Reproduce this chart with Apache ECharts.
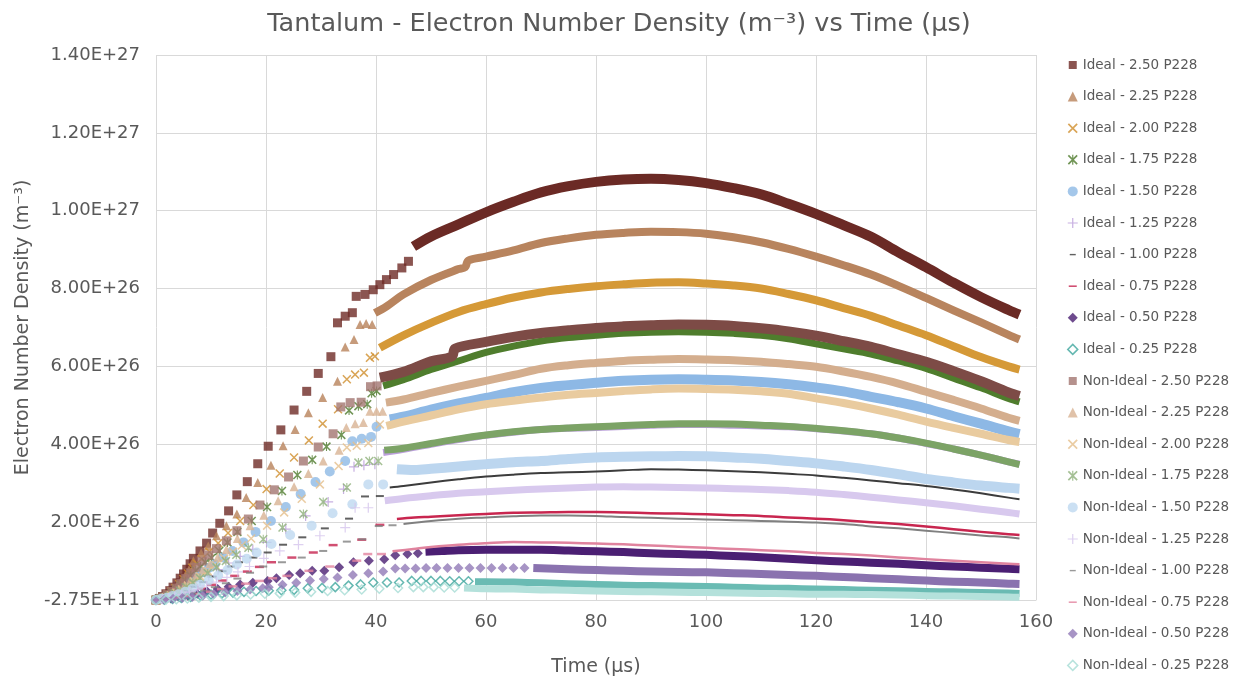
<!DOCTYPE html>
<html><head><meta charset="utf-8">
<script src="https://cdn.jsdelivr.net/npm/echarts@6/dist/echarts.min.js"></script>
<style>html,body{margin:0;padding:0;background:#fff}#c{width:1238px;height:682px}</style>
</head><body><div id="c"></div>
<script>
// Series names (legend order)
const seriesNames = [
  'Ideal - 2.50 P228','Ideal - 2.25 P228','Ideal - 2.00 P228','Ideal - 1.75 P228','Ideal - 1.50 P228',
  'Ideal - 1.25 P228','Ideal - 1.00 P228','Ideal - 0.75 P228','Ideal - 0.50 P228','Ideal - 0.25 P228',
  'Non-Ideal - 2.50 P228','Non-Ideal - 2.25 P228','Non-Ideal - 2.00 P228','Non-Ideal - 1.75 P228','Non-Ideal - 1.50 P228',
  'Non-Ideal - 1.25 P228','Non-Ideal - 1.00 P228','Non-Ideal - 0.75 P228','Non-Ideal - 0.50 P228','Non-Ideal - 0.25 P228'
];
const yTickLabels = ['-2.75E+11','2.00E+26','4.00E+26','6.00E+26','8.00E+26','1.00E+27','1.20E+27','1.40E+27'];

// Values: [time (µs), electron number density (×1e26 m^-3)]
// Sparse (individually visible) points
const i250Sparse = [[0,0],[0.6,0.04],[1.2,0.09],[1.8,0.16],[2.5,0.24],[3.1,0.33],[3.8,0.44],[4.4,0.56],[5.0,0.67],[5.6,0.79],[6.2,0.93],[6.8,1.07],[8.0,1.26],[9.2,1.46],[10.3,1.72],[11.6,1.97],[13.2,2.29],[14.7,2.70],[16.6,3.04],[18.5,3.50],[20.4,3.95],[22.7,4.37],[25.1,4.88],[27.4,5.36],[29.5,5.82],[31.8,6.25],[33.0,7.12],[34.4,7.29],[35.7,7.38],[36.4,7.80],[38.0,7.85],[39.5,7.97],[40.7,8.10],[41.9,8.23],[43.2,8.36],[44.7,8.53],[45.9,8.70]];
const i225Sparse = [[0,0],[0.6,0.03],[1.2,0.08],[1.8,0.14],[2.5,0.21],[3.2,0.29],[3.9,0.39],[4.6,0.50],[5.3,0.62],[6.0,0.78],[6.8,1.01],[8.2,1.21],[9.5,1.39],[11.0,1.65],[12.8,1.91],[14.7,2.21],[16.4,2.63],[18.5,3.02],[20.9,3.46],[23.1,3.96],[25.3,4.38],[27.7,4.81],[30.3,5.20],[33.0,5.62],[34.4,6.50],[36.0,6.69],[37.1,7.08],[38.2,7.10],[39.3,7.08]];
const i200Sparse = [[0,0],[0.7,0.03],[1.4,0.08],[2.1,0.14],[2.8,0.22],[3.5,0.31],[4.2,0.41],[5.0,0.54],[5.8,0.68],[6.6,0.83],[7.4,0.94],[8.3,1.05],[9.7,1.24],[11.3,1.46],[13.1,1.72],[15.3,2.03],[17.7,2.44],[20.1,2.85],[22.5,3.25],[25.1,3.66],[27.8,4.10],[30.3,4.53],[33.1,4.90],[34.7,5.67],[36.2,5.79],[37.8,5.84],[38.9,6.22],[39.8,6.26]];
const i175Sparse = [[0,0],[0.7,0.03],[1.4,0.07],[2.1,0.12],[2.9,0.19],[3.7,0.27],[4.5,0.37],[5.4,0.49],[6.3,0.62],[7.2,0.76],[8.1,0.86],[9.0,0.97],[10.1,1.08],[11.5,1.26],[13.0,1.48],[14.8,1.75],[17.4,2.03],[20.2,2.39],[22.9,2.80],[25.7,3.21],[28.4,3.60],[31.0,3.94],[33.7,4.24],[35.1,4.87],[36.8,4.98],[38.4,5.03],[39.2,5.31],[40.1,5.37]];
const i150Sparse = [[0,0],[0.8,0.03],[1.6,0.07],[2.5,0.12],[3.4,0.18],[4.3,0.26],[5.3,0.35],[6.3,0.46],[7.4,0.59],[8.5,0.71],[9.6,0.82],[10.7,0.92],[12.2,1.09],[13.9,1.26],[15.9,1.48],[18.1,1.75],[20.9,2.03],[23.6,2.39],[26.3,2.72],[29.0,3.03],[31.6,3.30],[34.4,3.57],[35.7,4.08],[37.4,4.14],[39.1,4.19],[40.1,4.45]];
const i125Sparse = [[0,0],[1.0,0.03],[2.0,0.07],[3.0,0.11],[4.0,0.17],[5.2,0.25],[6.5,0.35],[8.0,0.48],[9.6,0.62],[11.3,0.78],[13.2,0.95],[15.3,1.12],[17.6,1.30],[20.1,1.48],[23.6,1.82],[27.2,2.16],[31.3,2.52],[34.1,2.85],[36.0,3.42],[37.8,3.46],[39.8,3.49]];
const i100Sparse = [[0,0],[1.0,0.02],[2.0,0.05],[3.1,0.10],[4.3,0.16],[5.6,0.24],[7.0,0.34],[8.6,0.46],[10.3,0.60],[12.1,0.74],[13.6,0.86],[15.1,0.97],[17.7,1.09],[20.3,1.22],[23.1,1.42],[26.6,1.61],[30.7,1.84],[35.1,2.09],[38.0,2.66],[40.7,2.67]];
const i075Sparse = [[0,0],[1.2,0.02],[2.4,0.05],[3.7,0.09],[5.1,0.14],[6.6,0.21],[8.3,0.29],[10.1,0.39],[12.1,0.50],[14.3,0.62],[16.6,0.73],[18.8,0.85],[21.0,0.97],[24.7,1.09],[28.6,1.22],[32.2,1.41],[37.4,1.55],[40.7,1.93]];
const i050Sparse = [[0,0],[1.3,0.02],[2.7,0.04],[4.2,0.07],[5.8,0.11],[7.5,0.16],[9.3,0.22],[11.2,0.28],[13.2,0.34],[15.3,0.40],[17.6,0.44],[20.3,0.49],[21.9,0.56],[24.2,0.64],[26.2,0.69],[28.4,0.75],[30.6,0.75],[33.3,0.84],[35.9,0.97],[38.7,1.01],[41.5,1.05],[43.5,1.15],[45.7,1.18],[47.6,1.20]];
const i025Sparse = [[0,0],[1.5,0.01],[3.0,0.03],[4.6,0.05],[6.3,0.08],[8.1,0.11],[10.0,0.14],[12.0,0.17],[14.0,0.19],[16.0,0.21],[18.2,0.23],[20.5,0.24],[22.8,0.25],[25.1,0.26],[27.6,0.30],[30.2,0.31],[32.6,0.33],[35.0,0.37],[37.2,0.40],[39.5,0.45],[42.0,0.45],[44.2,0.45],[46.5,0.49],[48.2,0.49],[50.0,0.49],[51.7,0.49],[53.4,0.48],[55.1,0.48],[56.8,0.48]];
const n250Sparse = [[0,0],[0.7,0.03],[1.4,0.08],[2.1,0.14],[2.9,0.22],[3.7,0.31],[4.5,0.42],[5.4,0.55],[6.3,0.69],[7.3,0.84],[8.4,1.00],[9.6,1.15],[11.0,1.32],[12.8,1.52],[14.7,1.78],[16.8,2.08],[18.9,2.44],[21.5,2.83],[24.1,3.16],[26.8,3.57],[29.5,3.93],[32.2,4.27],[33.6,4.96],[35.3,5.07],[37.3,5.08],[39.0,5.48],[40.2,5.50]];
const n225Sparse = [[0,0],[0.8,0.03],[1.6,0.07],[2.4,0.12],[3.3,0.19],[4.2,0.27],[5.2,0.37],[6.2,0.49],[7.3,0.62],[8.5,0.77],[9.8,0.93],[11.2,1.10],[12.8,1.30],[14.8,1.58],[17.1,1.91],[19.6,2.18],[22.2,2.55],[25.1,2.91],[27.7,3.25],[30.4,3.57],[33.3,3.85],[34.6,4.43],[36.2,4.53],[37.7,4.56],[38.9,4.85],[40.1,4.85],[41.2,4.85]];
const n200Sparse = [[0,0],[0.9,0.03],[1.8,0.07],[2.7,0.12],[3.7,0.19],[4.7,0.27],[5.8,0.37],[6.9,0.48],[8.1,0.60],[9.4,0.74],[10.8,0.90],[12.4,1.07],[14.0,1.24],[15.6,1.40],[17.3,1.58],[20.2,1.91],[23.3,2.25],[26.5,2.60],[29.8,2.97],[33.2,3.44],[34.7,3.92],[36.5,3.96],[38.6,4.03],[40.7,4.51]];
const n175Sparse = [[0,0],[0.8,0.03],[1.6,0.06],[2.5,0.11],[3.4,0.17],[4.4,0.24],[5.5,0.33],[6.7,0.44],[8.0,0.56],[9.4,0.69],[11.0,0.84],[12.7,1.00],[14.6,1.16],[16.8,1.34],[19.5,1.56],[23.0,1.86],[26.8,2.21],[30.4,2.52],[34.7,2.89],[36.8,3.53],[38.8,3.57],[40.4,3.57]];
const n150Sparse = [[0,0],[1.0,0.03],[2.0,0.06],[3.0,0.10],[4.1,0.15],[5.3,0.21],[6.6,0.29],[8.0,0.39],[9.6,0.50],[11.3,0.63],[13.0,0.77],[14.7,0.91],[16.5,1.06],[18.3,1.22],[21.0,1.44],[24.4,1.67],[28.3,1.91],[32.1,2.23],[35.7,2.46],[38.6,2.97],[41.3,2.97]];
const n125Sparse = [[0,0],[1.1,0.02],[2.2,0.05],[3.4,0.09],[4.7,0.14],[6.1,0.20],[7.6,0.27],[9.2,0.36],[11.0,0.46],[12.9,0.58],[14.9,0.72],[17.0,0.86],[19.6,1.07],[22.5,1.26],[25.9,1.42],[29.8,1.65],[34.4,1.86],[36.2,2.37],[38.6,2.37]];
const n100Sparse = [[0,0],[1.2,0.02],[2.5,0.04],[3.9,0.07],[5.4,0.11],[7.0,0.17],[8.8,0.24],[10.7,0.33],[12.7,0.43],[14.8,0.55],[17.1,0.70],[19.5,0.86],[22.9,0.97],[26.5,1.09],[30.4,1.26],[34.7,1.50],[37.5,1.56],[40.5,1.90],[43.0,1.92]];
const n075Sparse = [[0,0],[1.4,0.01],[2.9,0.03],[4.5,0.06],[6.2,0.10],[8.0,0.15],[9.9,0.21],[11.9,0.28],[14.0,0.35],[16.3,0.42],[18.8,0.49],[21.2,0.56],[23.8,0.62],[27.8,0.75],[31.6,0.86],[36.5,1.01],[38.5,1.18],[41.0,1.18]];
const n050Sparse = [[0,0],[1.5,0.01],[3.1,0.03],[4.8,0.05],[6.6,0.08],[8.5,0.11],[10.5,0.15],[12.6,0.19],[14.8,0.23],[17.1,0.27],[19.4,0.30],[20.5,0.33],[23.0,0.39],[25.5,0.44],[28.0,0.50],[30.5,0.54],[33.0,0.58],[35.8,0.64],[38.6,0.69],[41.3,0.73],[43.5,0.81],[45.3,0.81],[47.2,0.81],[49.1,0.82],[51.0,0.82],[53.0,0.82],[55.0,0.82],[57.0,0.82],[59.0,0.82],[61.0,0.82],[63.0,0.82],[65.0,0.82],[67.0,0.82]];
const n025Sparse = [[0,0],[1.8,0.01],[3.7,0.02],[5.7,0.04],[7.8,0.06],[10.0,0.08],[12.3,0.10],[14.7,0.12],[17.2,0.14],[19.8,0.16],[22.5,0.17],[25.3,0.19],[28.2,0.21],[31.2,0.23],[34.3,0.25],[37.4,0.27],[40.6,0.29],[44.0,0.31],[46.8,0.33],[48.6,0.33],[50.5,0.33],[52.4,0.32],[54.3,0.32]];

// Dense (continuous-looking) parts
const i250Dense = [[46.8,9.08],[50,9.34],[55,9.65],[60,9.96],[65,10.23],[70,10.47],[75,10.63],[80,10.74],[85,10.80],[90,10.82],[95,10.79],[100,10.71],[105,10.58],[110,10.42],[115,10.18],[120,9.92],[125,9.63],[130,9.33],[135,8.93],[140,8.55],[145,8.15],[150,7.78],[155,7.45],[157,7.33]];
const i225Dense = [[39.8,7.37],[42,7.55],[45,7.85],[50,8.22],[55,8.50],[56.2,8.55],[56.8,8.72],[60,8.82],[65,8.98],[70,9.17],[75,9.29],[80,9.38],[85,9.43],[90,9.46],[95,9.45],[100,9.41],[105,9.32],[110,9.19],[115,9.02],[120,8.82],[125,8.60],[130,8.36],[135,8.07],[140,7.76],[145,7.44],[150,7.13],[155,6.81],[157,6.69]];
const i200Dense = [[40.7,6.48],[45,6.80],[50,7.12],[55,7.40],[60,7.60],[65,7.77],[70,7.90],[75,7.99],[80,8.06],[85,8.11],[90,8.15],[95,8.16],[100,8.13],[105,8.08],[110,8.00],[115,7.86],[120,7.70],[125,7.50],[130,7.30],[135,7.05],[140,6.80],[145,6.52],[150,6.24],[155,6.00],[157,5.92]];
const i175Dense = [[41.3,5.50],[45,5.66],[50,5.92],[55,6.14],[60,6.36],[65,6.52],[70,6.65],[75,6.74],[80,6.80],[85,6.85],[90,6.88],[95,6.89],[100,6.88],[105,6.85],[110,6.80],[115,6.71],[120,6.58],[125,6.45],[130,6.32],[135,6.14],[140,5.95],[145,5.70],[150,5.45],[155,5.18],[157,5.09]];
const i150Dense = [[42.5,4.64],[45,4.71],[50,4.89],[55,5.05],[60,5.19],[65,5.34],[70,5.45],[75,5.52],[80,5.58],[85,5.63],[90,5.66],[95,5.67],[100,5.66],[105,5.64],[110,5.60],[115,5.54],[120,5.46],[125,5.36],[130,5.22],[135,5.08],[140,4.92],[145,4.72],[150,4.53],[155,4.33],[157,4.26]];
const i125Dense = [[41.3,3.79],[45,3.87],[50,4.00],[55,4.12],[60,4.23],[65,4.31],[70,4.38],[75,4.41],[80,4.43],[85,4.46],[90,4.49],[95,4.51],[100,4.51],[105,4.49],[110,4.47],[115,4.45],[120,4.40],[125,4.34],[130,4.27],[135,4.16],[140,4.02],[145,3.88],[150,3.72],[155,3.55],[157,3.49]];
const i100Dense = [[42.5,2.89],[45,2.93],[50,3.02],[55,3.10],[60,3.17],[65,3.22],[70,3.26],[75,3.28],[80,3.30],[85,3.33],[90,3.36],[95,3.35],[100,3.33],[105,3.31],[110,3.28],[115,3.24],[120,3.20],[125,3.14],[130,3.07],[135,3.00],[140,2.93],[145,2.84],[150,2.74],[155,2.63],[157,2.59]];
const i075Dense = [[43.8,2.08],[47,2.12],[50,2.14],[55,2.18],[60,2.21],[65,2.24],[70,2.25],[75,2.26],[80,2.26],[85,2.25],[90,2.23],[95,2.22],[100,2.20],[105,2.18],[110,2.16],[115,2.12],[120,2.09],[125,2.05],[130,2.00],[135,1.95],[140,1.89],[145,1.82],[150,1.75],[155,1.69],[157,1.67]];
const i050Dense = [[49,1.24],[52,1.26],[55,1.28],[60,1.29],[65,1.29],[70,1.29],[75,1.27],[80,1.25],[85,1.23],[90,1.20],[95,1.18],[100,1.16],[105,1.13],[110,1.10],[115,1.06],[120,1.02],[125,0.99],[130,0.96],[135,0.93],[140,0.89],[145,0.86],[150,0.83],[155,0.80],[157,0.79]];
const i025Dense = [[58,0.47],[60,0.47],[65,0.46],[70,0.44],[75,0.42],[80,0.40],[85,0.38],[90,0.37],[95,0.36],[100,0.35],[105,0.33],[110,0.31],[115,0.30],[120,0.28],[125,0.27],[130,0.25],[135,0.24],[140,0.22],[145,0.21],[150,0.19],[155,0.18],[157,0.17]];
const n250Dense = [[40.7,5.71],[45,5.86],[50,6.13],[53.8,6.26],[54.4,6.46],[60,6.63],[65,6.76],[70,6.86],[75,6.93],[80,6.99],[85,7.03],[90,7.06],[95,7.08],[100,7.07],[105,7.04],[110,6.98],[115,6.90],[120,6.79],[125,6.65],[130,6.50],[135,6.31],[140,6.12],[145,5.88],[150,5.62],[155,5.33],[157,5.24]];
const n225Dense = [[41.8,5.07],[45,5.15],[50,5.32],[55,5.48],[60,5.63],[65,5.78],[70,5.94],[75,6.03],[80,6.09],[85,6.14],[90,6.17],[95,6.19],[100,6.18],[105,6.16],[110,6.12],[115,6.06],[120,5.99],[125,5.87],[130,5.73],[135,5.56],[140,5.35],[145,5.14],[150,4.92],[155,4.68],[157,4.60]];
const n200Dense = [[41.9,4.47],[45,4.58],[50,4.74],[55,4.90],[60,5.03],[65,5.12],[70,5.20],[75,5.27],[80,5.32],[85,5.37],[90,5.41],[95,5.43],[100,5.42],[105,5.40],[110,5.36],[115,5.30],[120,5.18],[125,5.06],[130,4.92],[135,4.76],[140,4.58],[145,4.42],[150,4.27],[155,4.11],[157,4.06]];
const n175Dense = [[41.5,3.85],[45,3.90],[50,4.02],[55,4.14],[60,4.24],[65,4.32],[70,4.38],[75,4.42],[80,4.45],[85,4.48],[90,4.51],[95,4.53],[100,4.53],[105,4.52],[110,4.49],[115,4.46],[120,4.41],[125,4.35],[130,4.27],[135,4.16],[140,4.03],[145,3.88],[150,3.72],[155,3.55],[157,3.48]];
const n150Dense = [[43.8,3.36],[47,3.34],[50,3.37],[55,3.43],[60,3.49],[65,3.54],[70,3.57],[75,3.62],[80,3.66],[85,3.68],[90,3.69],[95,3.70],[100,3.69],[105,3.66],[110,3.63],[115,3.57],[120,3.51],[125,3.43],[130,3.34],[135,3.23],[140,3.11],[145,3.02],[150,2.94],[155,2.88],[157,2.86]];
const n125Dense = [[41.6,2.55],[45,2.61],[50,2.68],[55,2.74],[60,2.78],[65,2.82],[70,2.85],[75,2.88],[80,2.90],[85,2.91],[90,2.90],[95,2.89],[100,2.88],[105,2.86],[110,2.84],[115,2.81],[120,2.77],[125,2.71],[130,2.64],[135,2.57],[140,2.50],[145,2.42],[150,2.33],[155,2.25],[157,2.21]];
const n100Dense = [[45,1.95],[50,2.03],[55,2.09],[60,2.12],[65,2.15],[70,2.17],[75,2.17],[80,2.16],[85,2.13],[90,2.11],[95,2.09],[100,2.07],[105,2.05],[110,2.03],[115,2.01],[120,1.99],[125,1.95],[130,1.89],[135,1.84],[140,1.78],[145,1.72],[150,1.66],[155,1.61],[157,1.58]];
const n075Dense = [[43,1.25],[46.8,1.31],[50,1.36],[55,1.42],[60,1.46],[65,1.49],[70,1.48],[75,1.47],[80,1.45],[85,1.43],[90,1.40],[95,1.37],[100,1.34],[105,1.31],[110,1.28],[115,1.25],[120,1.21],[125,1.18],[130,1.14],[135,1.09],[140,1.05],[145,1.01],[150,0.97],[155,0.93],[157,0.92]];
const n050Dense = [[68.6,0.82],[75,0.79],[80,0.77],[85,0.75],[90,0.73],[95,0.72],[100,0.71],[105,0.69],[110,0.67],[115,0.64],[120,0.62],[125,0.59],[130,0.56],[135,0.53],[140,0.50],[145,0.47],[150,0.45],[155,0.42],[157,0.41]];
const n025Dense = [[56,0.31],[60,0.29],[65,0.28],[70,0.26],[75,0.25],[80,0.23],[85,0.22],[90,0.21],[95,0.20],[100,0.19],[105,0.18],[110,0.17],[115,0.16],[120,0.15],[125,0.15],[130,0.14],[135,0.13],[140,0.11],[145,0.10],[150,0.09],[155,0.08],[157,0.07]];

const sparseData = [i250Sparse,i225Sparse,i200Sparse,i175Sparse,i150Sparse,i125Sparse,i100Sparse,i075Sparse,i050Sparse,i025Sparse,
  n250Sparse,n225Sparse,n200Sparse,n175Sparse,n150Sparse,n125Sparse,n100Sparse,n075Sparse,n050Sparse,n025Sparse];
const denseData = [i250Dense,i225Dense,i200Dense,i175Dense,i150Dense,i125Dense,i100Dense,i075Dense,i050Dense,i025Dense,
  n250Dense,n225Dense,n200Dense,n175Dense,n150Dense,n125Dense,n100Dense,n075Dense,n050Dense,n025Dense];

// Styles
const SYM_X = 'path://M0,1.2L1.2,0L10,8.8L8.8,10Z M8.8,0L10,1.2L1.2,10L0,8.8Z';
const SYM_AST = 'path://M0,1.2L1.2,0L10,8.8L8.8,10Z M8.8,0L10,1.2L1.2,10L0,8.8Z M4.4,0H5.6V10H4.4Z';
const SYM_PLUS = 'path://M4.4,0H5.6V10H4.4Z M0,4.4H10V5.6H0Z';
const ICON_DASH = 'path://M0,0M10,10M2,4.3H8V5.7H2Z';
const ICON_DASH2 = 'path://M0,0M10,10M1,4.2H9V5.8H1Z';
const ICON_SQ = 'path://M0,0M10,10M1,1H9V9H1Z';
const styles = [
  {sym:'rect', size:9, color:'#6E2A25', line:'#6B2A25', lw:10, icon:ICON_SQ},
  {sym:'triangle', size:9, color:'#B8825A', line:'#B8845E', lw:8, icon:'triangle'},
  {sym:SYM_X, size:9, color:'#D08F2D', line:'#D59937', lw:8, icon:SYM_X},
  {sym:SYM_AST, size:9, color:'#4E7B2C', line:'#4F7D2D', lw:7, icon:SYM_AST},
  {sym:'circle', size:10, color:'#8DB9E5', line:'#8DB8E5', lw:10, icon:'circle'},
  {sym:SYM_PLUS, size:10, color:'#B99BDA', line:'#BBA0DB', lw:7, icon:SYM_PLUS},
  {sym:'rect', size:[8,2], color:'#3A3A3A', line:'#3C3C3C', lw:2, icon:ICON_DASH},
  {sym:'rect', size:[9,2.5], color:'#C5234F', line:'#C8264F', lw:2.5, icon:ICON_DASH2},
  {sym:'diamond', size:10, color:'#4A1E72', line:'#4B1F73', lw:8, icon:'diamond'},
  {sym:'diamond', size:9, color:'#3EA69D', line:'#6ABBB3', lw:7, icon:'diamond', hollow:true},
  {sym:'rect', size:9, color:'#A37570', line:'#7D4B46', lw:10, icon:ICON_SQ},
  {sym:'triangle', size:9, color:'#D8B393', line:'#D4AE8E', lw:8, icon:'triangle'},
  {sym:SYM_X, size:9, color:'#E5BF8C', line:'#E9CB9F', lw:8, icon:SYM_X},
  {sym:SYM_AST, size:9, color:'#8FB07A', line:'#7CA366', lw:7, icon:SYM_AST},
  {sym:'circle', size:10, color:'#BED8F0', line:'#BCD6EF', lw:10, icon:'circle'},
  {sym:SYM_PLUS, size:10, color:'#D5C4EC', line:'#D8C9EE', lw:7, icon:SYM_PLUS},
  {sym:'rect', size:[8,2], color:'#7F7F7F', line:'#808080', lw:2, icon:ICON_DASH},
  {sym:'rect', size:[9,2.5], color:'#E2839F', line:'#E0839E', lw:2.5, icon:ICON_DASH2},
  {sym:'diamond', size:10, color:'#9179B6', line:'#8A72AF', lw:8, icon:'diamond'},
  {sym:'diamond', size:9, color:'#A6DCD5', line:'#B4E1DB', lw:7, icon:'diamond', hollow:true}
];

const series = [];
seriesNames.forEach((name, i) => {
  const s = styles[i];
  const itemStyle = s.hollow
    ? {color:'rgba(255,255,255,0)', borderColor:s.color, borderWidth:1.5}
    : {color:s.color};
  series.push({
    name, type:'scatter', data:sparseData[i], symbol:s.sym, symbolSize:s.size,
    itemStyle, silent:true
  });
  series.push({
    name, type:'line', data:denseData[i], showSymbol:false, smooth:0.35,
    lineStyle:{color:s.line, width:s.lw, join:'round', cap:'butt'}, itemStyle:{color:s.line}, silent:true
  });
});

const FONT = 'DejaVu Sans';
const chart = echarts.init(document.getElementById('c'));
chart.setOption({
  animation:false,
  backgroundColor:'#ffffff',
  title:{
    text:'Tantalum - Electron Number Density (m\u207B\u00B3) vs Time (\u00B5s)',
    left:'center', top:6,
    textStyle:{fontFamily:FONT, fontSize:25.5, fontWeight:'normal', color:'#595959'}
  },
  legend:{
    orient:'vertical', left:1062, top:53, itemWidth:10, itemHeight:10, itemGap:17.6,
    textStyle:{fontFamily:FONT, fontSize:13.5, lineHeight:14, color:'#595959'},
    data: seriesNames.map((n,i)=>{
      const s = styles[i];
      const d = {name:n, icon:s.icon};
      if (s.hollow) d.itemStyle = {color:'rgba(255,255,255,0)', borderColor:s.color, borderWidth:1.5};
      else d.itemStyle = {color:s.color};
      return d;
    })
  },
  grid:{left:156, right:202, top:55, bottom:81},
  xAxis:{
    type:'value', min:0, max:160, interval:20,
    name:'Time (\u00B5s)', nameLocation:'middle', nameGap:58,
    nameTextStyle:{fontFamily:FONT, fontSize:19, color:'#595959'},
    axisLine:{show:true, lineStyle:{color:'#d9d9d9'}},
    axisTick:{show:false},
    axisLabel:{fontFamily:FONT, fontSize:18, color:'#595959', margin:13},
    splitLine:{show:true, lineStyle:{color:'#d9d9d9', width:1}}
  },
  yAxis:{
    type:'value', min:0, max:14, interval:2,
    name:'Electron Number Density (m\u207B\u00B3)', nameLocation:'middle', nameGap:123,
    nameTextStyle:{fontFamily:FONT, fontSize:19, color:'#595959'},
    axisLine:{show:false}, axisTick:{show:false},
    axisLabel:{fontFamily:FONT, fontSize:18, color:'#595959', margin:16,
      formatter:(v, idx)=> yTickLabels[idx]},
    splitLine:{show:true, lineStyle:{color:'#d9d9d9', width:1}}
  },
  series
});
</script>
</body></html>
